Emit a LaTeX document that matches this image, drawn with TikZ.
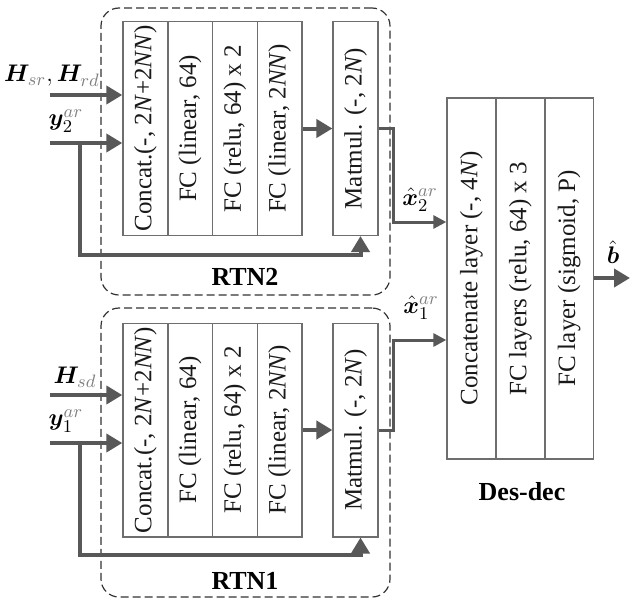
\documentclass[tikz,border=0pt]{standalone}
\usepackage{fontspec}
\setmainfont{Liberation Serif}
\usepackage{amsmath,bm}
\usetikzlibrary{arrows.meta}

\definecolor{arrgray}{RGB}{88,88,88}
\definecolor{boxgray}{RGB}{110,110,110}
\newcommand{\gsub}[1]{\textcolor{gray}{#1}}

\tikzset{
  layer/.style={draw=boxgray, line width=0.7pt, inner sep=0pt,
    minimum width=22.4pt, text=black!90,
    font=\fontsize{12.5}{14}\selectfont},
  group/.style={draw=black!80, dash pattern=on 4pt off 2pt,
    line width=0.6pt, rounded corners=9pt, inner sep=0pt},
  bigarr/.style={draw=arrgray, line width=2pt,
    -{Triangle[length=8pt,width=9pt]}},
  outarr/.style={draw=arrgray, line width=1.5pt,
    -{Triangle[length=6.5pt,width=6.5pt]}},
  tag/.style={font=\fontsize{13}{15}\selectfont\bfseries},
  mlabel/.style={font=\fontsize{13}{15}\selectfont, inner sep=0pt}
}

\begin{document}
\begin{tikzpicture}[x=0.5pt, y=-0.5pt]
  \useasboundingbox (0,0) rectangle (630,599);

  % dashed groups
  \node[group, minimum width=144.5pt, minimum height=143.5pt] (g2) at (245.5,151.5) {};
  \node[group, minimum width=144.5pt, minimum height=144.5pt] (g1) at (245.5,452.5) {};
  \node[tag] (t2) at (245,277) {RTN2};
  \node[tag] (t1) at (245,581) {RTN1};

  % layers of both RTNs
  \foreach \n/\cy in {2/128.5, 1/430} {
    \node[layer, minimum height=106.8pt] (cat\n) at (145.4,\cy)
      {\rotatebox{90}{Concat.(-, 2\textit{N}+2\textit{NN})}};
    \node[layer, minimum height=106.8pt] (fca\n) at (190.1,\cy)
      {\rotatebox{90}{FC (linear, 64)}};
    \node[layer, minimum height=106.8pt] (fcb\n) at (234.9,\cy)
      {\rotatebox{90}{FC (relu, 64) x 2}};
    \node[layer, minimum height=106.8pt] (fcc\n) at (279.6,\cy)
      {\rotatebox{90}{FC (linear, 2\textit{NN})}};
    \node[layer, minimum height=106.8pt] (mm\n) at (355.5,\cy)
      {\rotatebox{90}{Matmul. (-, 2\textit{N})}};
    \draw[bigarr] (fcc\n.east) -- (mm\n.west);
  }

  % Des-dec
  \node[layer, minimum width=24.5pt, minimum height=180.5pt] (dec1) at (471.5,278.5)
    {\rotatebox{90}{Concatenate layer (-, 4\textit{N})}};
  \node[layer, minimum width=24.5pt, minimum height=180.5pt] (dec2) at (520.5,278.5)
    {\rotatebox{90}{FC layers (relu, 64) x 3}};
  \node[layer, minimum width=24.5pt, minimum height=180.5pt] (dec3) at (569.25,278.5)
    {\rotatebox{90}{FC layer (sigmoid, P)}};
  \node[tag] (td) at (522,492) {Des-dec};

  % inputs
  \coordinate (hin2) at (50,95);
  \coordinate (yin2) at (50,143);
  \coordinate (yb2) at (80,143);
  \coordinate (hin1) at (50,395);
  \coordinate (yin1) at (50,443);
  \coordinate (yb1) at (80,443);
  \node[mlabel] (lh2) at (52,76) {$\bm{H}_{\gsub{sr}},\bm{H}_{\gsub{rd}}$};
  \node[mlabel] (ly2) at (66,121) {$\bm{y}_{2}^{\gsub{ar}}$};
  \node[mlabel] (lh1) at (75,377) {$\bm{H}_{\gsub{sd}}$};
  \node[mlabel] (ly1) at (66,421) {$\bm{y}_{1}^{\gsub{ar}}$};

  \foreach \n in {2,1} {
    \draw[bigarr] (hin\n) -- (hin\n -| cat\n.west);
    \draw[bigarr] (yin\n) -- (yin\n -| cat\n.west);
    \draw[bigarr] (yb\n) -- ++(0,112) -| ([xshift=2.5pt]mm\n.south);
  }

  % RTN outputs to Des-dec
  \coordinate (xt2) at (393,222);
  \coordinate (xt1) at (393,340);
  \draw[outarr] (mm2.east) -| (xt2) -- (xt2 -| dec1.west);
  \draw[outarr] (mm1.east) -| (xt1) -- (xt1 -| dec1.west);
  \node[mlabel] (lx2) at (420,200) {$\hat{\bm{x}}_{2}^{\gsub{ar}}$};
  \node[mlabel] (lx1) at (421,308) {$\hat{\bm{x}}_{1}^{\gsub{ar}}$};

  % output
  \coordinate (bout) at (630,278);
  \draw[bigarr] (bout -| dec3.east) -- (bout);
  \node[mlabel] (lb) at (613,252) {$\hat{\bm{b}}$};
\end{tikzpicture}
\end{document}
